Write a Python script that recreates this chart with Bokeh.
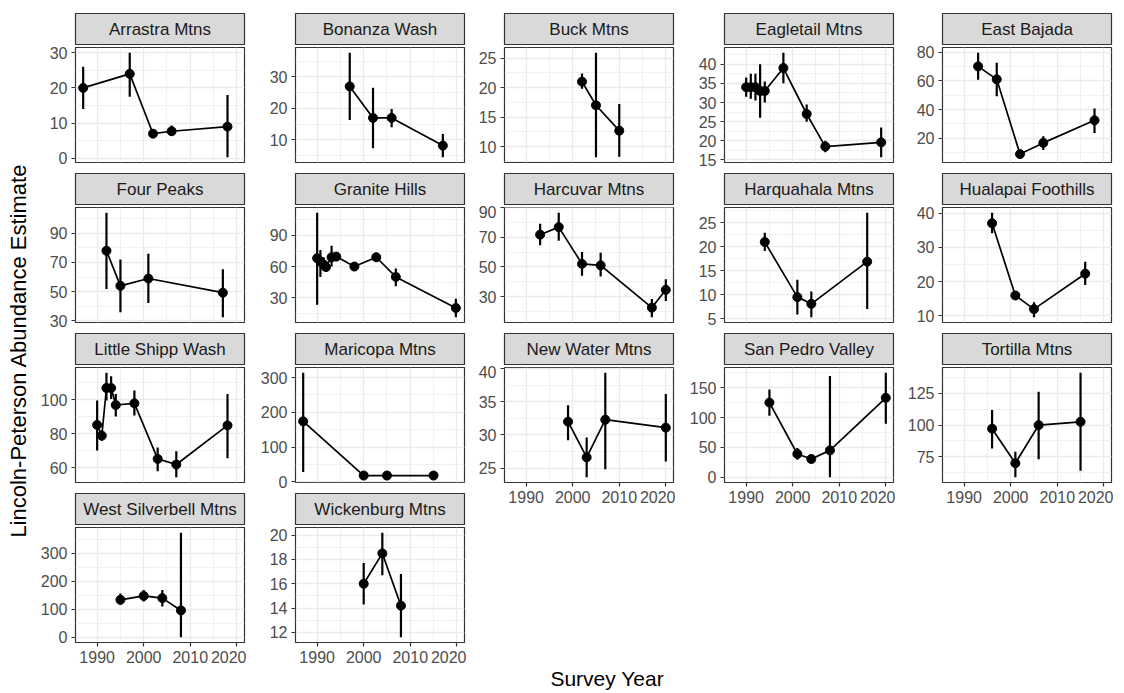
import math
from bokeh.plotting import figure
from bokeh.models import Range1d, FixedTicker, Label, Spacer
from bokeh.layouts import row, column
from bokeh.embed import file_html
from bokeh.resources import INLINE

FONT = "Liberation Sans"

# ---------------- data ----------------
site_names = ["Arrastra Mtns", "Bonanza Wash", "Buck Mtns", "Eagletail Mtns", "East Bajada",
              "Four Peaks", "Granite Hills", "Harcuvar Mtns", "Harquahala Mtns", "Hualapai Foothills",
              "Little Shipp Wash", "Maricopa Mtns", "New Water Mtns", "San Pedro Valley", "Tortilla Mtns",
              "West Silverbell Mtns", "Wickenburg Mtns"]

arrastra_year = [1987, 1997, 2002, 2006, 2018]
arrastra_est = [20, 24, 7, 7.7, 9]
arrastra_lo = [14, 17.5, 6, 6.5, 0.3]
arrastra_hi = [26, 30, 8, 9.3, 18]
arrastra_ticks = [0, 10, 20, 30]

bonanza_year = [1997, 2002, 2006, 2017]
bonanza_est = [27, 17, 17, 8.2]
bonanza_lo = [16.3, 7.4, 14, 4.5]
bonanza_hi = [37.7, 26.6, 19.8, 11.9]
bonanza_ticks = [10, 20, 30]

buck_year = [2002, 2005, 2010]
buck_est = [21, 17, 12.7]
buck_lo = [19.8, 8.2, 8.3]
buck_hi = [22.4, 25.9, 17.2]
buck_ticks = [10, 15, 20, 25]

eagletail_year = [1990, 1991, 1992, 1993, 1994, 1998, 2003, 2007, 2019]
eagletail_est = [34, 34, 34, 33, 33, 39, 27, 18.5, 19.6]
eagletail_lo = [31.5, 31, 30.5, 26, 30, 35, 25, 17, 15.7]
eagletail_hi = [36.5, 37.5, 37.5, 40, 35.5, 43, 29.5, 20, 23.5]
eagletail_ticks = [15, 20, 25, 30, 35, 40]

eastbajada_year = [1993, 1997, 2002, 2007, 2018]
eastbajada_est = [70, 61, 9, 16.8, 32.5]
eastbajada_lo = [60.7, 49.3, 6.8, 11.8, 23.6]
eastbajada_hi = [79.5, 72.5, 10.7, 21.4, 40.7]
eastbajada_ticks = [20, 40, 60, 80]

fourpeaks_year = [1992, 1995, 2001, 2017]
fourpeaks_est = [78, 54, 59, 49.3]
fourpeaks_lo = [51.8, 36, 42.3, 32.5]
fourpeaks_hi = [104, 72, 76, 65.3]
fourpeaks_ticks = [30, 50, 70, 90]

granite_year = [1990.0, 1990.7, 1991.4, 1991.9, 1993.1, 1994.1, 1998.0, 2002.7, 2006.9, 2019.8]
granite_est = [68, 65, 62, 59.5, 69, 69.6, 60, 69, 50, 20]
granite_lo = [23, 50, 56, 56, 60, 66, 58, 65, 41, 11]
granite_hi = [112, 76, 69, 63, 80, 73, 62, 73, 58, 29]
granite_ticks = [30, 60, 90]

harcuvar_year = [1993, 1997, 2002, 2006, 2017, 2020]
harcuvar_est = [71.7, 76.8, 52, 51, 22.5, 34.5]
harcuvar_lo = [64.6, 67.6, 44, 43.5, 16, 27]
harcuvar_hi = [79, 86.5, 60, 59.5, 28.3, 41.7]
harcuvar_ticks = [30, 50, 70, 90]

harquahala_year = [1994, 2001, 2004, 2016]
harquahala_est = [21, 9.5, 8.1, 16.9]
harquahala_lo = [19.1, 5.9, 5.3, 7.0]
harquahala_hi = [22.9, 13.1, 10.7, 27.1]
harquahala_ticks = [5, 10, 15, 20, 25]

hualapai_year = [1996, 2001, 2005, 2016]
hualapai_est = [37.1, 15.9, 11.9, 22.3]
hualapai_lo = [34.2, 15.2, 9.5, 19.0]
hualapai_hi = [40.2, 16.7, 13.9, 25.8]
hualapai_ticks = [10, 20, 30, 40]

littleshipp_year = [1990, 1991, 1992, 1993, 1994, 1998, 2003, 2007, 2018]
littleshipp_est = [85.3, 79, 107, 107, 97, 98, 65.3, 62, 85]
littleshipp_lo = [70.2, 76, 99.6, 100.6, 90.2, 90.8, 58, 54.5, 65.7]
littleshipp_hi = [99.6, 82, 116, 114, 103.5, 105.5, 72, 69.8, 103.5]
littleshipp_ticks = [60, 80, 100]

maricopa_year = [1987, 2000, 2005, 2015]
maricopa_est = [174, 18, 18, 18]
maricopa_lo = [28, 13, 13, 13]
maricopa_hi = [314, 22, 22, 22]
maricopa_ticks = [0, 100, 200, 300]

newwater_year = [1999, 2003, 2007, 2020]
newwater_est = [32, 26.6, 32.3, 31.1]
newwater_lo = [29.2, 23.6, 24.8, 26]
newwater_hi = [34.5, 29.6, 39.4, 36.2]
newwater_ticks = [25, 30, 35, 40]

sanpedro_year = [1995, 2001, 2004, 2008, 2020]
sanpedro_est = [125, 39, 30.6, 45, 133]
sanpedro_lo = [102.8, 29.4, 26.7, 0, 89.4]
sanpedro_hi = [147, 49, 35, 169.4, 175]
sanpedro_ticks = [0, 50, 100, 150]

tortilla_year = [1996, 2001, 2006, 2015]
tortilla_est = [97.2, 70, 100, 102.6]
tortilla_lo = [81.5, 58.9, 73.2, 64]
tortilla_hi = [112, 79.1, 126.3, 141.3]
tortilla_ticks = [75, 100, 125]

silverbell_year = [1995, 2000, 2004, 2008]
silverbell_est = [134, 148, 140, 96]
silverbell_lo = [116, 128, 110, 0]
silverbell_hi = [157, 169, 169, 374]
silverbell_ticks = [0, 100, 200, 300]

wickenburg_year = [2000, 2004, 2008]
wickenburg_est = [16, 18.5, 14.2]
wickenburg_lo = [14.3, 16.7, 11.6]
wickenburg_hi = [17.7, 20.2, 16.8]
wickenburg_ticks = [12, 14, 16, 18, 20]

x_ticks = [1990, 2000, 2010, 2020]
x_minor = [1985, 1995, 2005, 2015]
x_title = "Survey Year"
y_title = "Lincoln-Peterson Abundance Estimate"

series = [
    (arrastra_year, arrastra_est, arrastra_lo, arrastra_hi, arrastra_ticks),
    (bonanza_year, bonanza_est, bonanza_lo, bonanza_hi, bonanza_ticks),
    (buck_year, buck_est, buck_lo, buck_hi, buck_ticks),
    (eagletail_year, eagletail_est, eagletail_lo, eagletail_hi, eagletail_ticks),
    (eastbajada_year, eastbajada_est, eastbajada_lo, eastbajada_hi, eastbajada_ticks),
    (fourpeaks_year, fourpeaks_est, fourpeaks_lo, fourpeaks_hi, fourpeaks_ticks),
    (granite_year, granite_est, granite_lo, granite_hi, granite_ticks),
    (harcuvar_year, harcuvar_est, harcuvar_lo, harcuvar_hi, harcuvar_ticks),
    (harquahala_year, harquahala_est, harquahala_lo, harquahala_hi, harquahala_ticks),
    (hualapai_year, hualapai_est, hualapai_lo, hualapai_hi, hualapai_ticks),
    (littleshipp_year, littleshipp_est, littleshipp_lo, littleshipp_hi, littleshipp_ticks),
    (maricopa_year, maricopa_est, maricopa_lo, maricopa_hi, maricopa_ticks),
    (newwater_year, newwater_est, newwater_lo, newwater_hi, newwater_ticks),
    (sanpedro_year, sanpedro_est, sanpedro_lo, sanpedro_hi, sanpedro_ticks),
    (tortilla_year, tortilla_est, tortilla_lo, tortilla_hi, tortilla_ticks),
    (silverbell_year, silverbell_est, silverbell_lo, silverbell_hi, silverbell_ticks),
    (wickenburg_year, wickenburg_est, wickenburg_lo, wickenburg_hi, wickenburg_ticks),
]

# ---------------- layout constants ----------------
NCOL = 5
ML = [42, 49, 38, 49, 47]   # left border per column (room for y tick labels)
FW = 169                    # frame width
MR = 2
STRIP_H = 33
PTOP = 2
FRAME_H = 115
GAP = 10
AXIS_H = 30
TOP_PAD = 12
TOTAL_H = 690
YT_W = 33
TICK_FS = "16px"

all_years = [y for s in series for y in s[0]]
xmin, xmax = min(all_years), max(all_years)
xpad = 0.05 * (xmax - xmin)
X0, X1 = xmin - xpad, xmax + xpad

BORDER = "#333333"
GRID = "#EBEBEB"


def make_strip(name, ml):
    s = figure(width=ml + FW + MR, height=STRIP_H, x_range=Range1d(0, 1), y_range=Range1d(0, 1),
               x_axis_type=None, y_axis_type=None, toolbar_location=None, output_backend="svg",
               min_border_left=ml, min_border_right=MR, min_border_top=1, min_border_bottom=0,
               background_fill_color="#D9D9D9", border_fill_color="white",
               outline_line_color=BORDER, outline_line_width=1.2)
    s.add_layout(Label(x=0.5, y=0.5, text=name, text_align="center", text_baseline="middle",
                       text_font=FONT, text_font_size="17px", text_color="#1A1A1A"))
    return s


def make_panel(data, ml, bottom):
    yr, est, lo, hi, yt = data
    lmin, hmax = min(lo), max(hi)
    r = hmax - lmin
    bb = AXIS_H if bottom else GAP
    p = figure(width=ml + FW + MR, height=PTOP + FRAME_H + bb,
               x_range=Range1d(X0, X1), y_range=Range1d(lmin - 0.05 * r, hmax + 0.05 * r),
               toolbar_location=None, output_backend="svg",
               min_border_left=ml, min_border_right=MR, min_border_top=PTOP, min_border_bottom=bb,
               background_fill_color="white", border_fill_color="white",
               outline_line_color=BORDER, outline_line_width=1.2)
    step = yt[1] - yt[0]
    p.yaxis.ticker = FixedTicker(ticks=yt, minor_ticks=[t - step / 2 for t in yt] + [yt[-1] + step / 2])
    p.xaxis.ticker = FixedTicker(ticks=x_ticks, minor_ticks=x_minor)
    for ax in p.axis:
        ax.axis_line_color = None
        ax.major_tick_line_color = BORDER
        ax.major_tick_line_width = 1.2
        ax.major_tick_out = 4
        ax.major_tick_in = 0
        ax.minor_tick_line_color = None
        ax.major_label_text_font = FONT
        ax.major_label_text_font_size = TICK_FS
        ax.major_label_text_color = "#4D4D4D"
        ax.major_label_standoff = 4
    p.xaxis.visible = bottom
    for g in p.grid:
        g.grid_line_color = GRID
        g.grid_line_width = 1.3
        g.minor_grid_line_color = GRID
        g.minor_grid_line_width = 0.7
    p.segment(x0=yr, y0=lo, x1=yr, y1=hi, line_color="black", line_width=2.2)
    p.line(yr, est, line_color="black", line_width=1.7)
    p.scatter(yr, est, size=9, fill_color="black", line_color="black")
    return p


# ---------------- build columns ----------------
nrows = math.ceil(len(series) / NCOL)
cols = []
for c in range(NCOL):
    idx = [r * NCOL + c for r in range(nrows) if r * NCOL + c < len(series)]
    cw = ML[c] + FW + MR
    kids = [Spacer(width=cw, height=TOP_PAD)]
    for k, i in enumerate(idx):
        kids.append(make_strip(site_names[i], ML[c]))
        kids.append(make_panel(series[i], ML[c], bottom=(k == len(idx) - 1)))
    cols.append(kids)

# x-axis title placed in the empty area under the middle column
cell_left = [YT_W]
for c in range(NCOL - 1):
    cell_left.append(cell_left[-1] + ML[c] + FW + MR)
panel_center = ((cell_left[0] + ML[0]) + (cell_left[-1] + ML[-1] + FW)) / 2.0
c3 = 2
n3 = len([r for r in range(nrows) if r * NCOL + c3 < len(series)])
used = TOP_PAD + (n3 - 1) * (STRIP_H + PTOP + FRAME_H + GAP) + STRIP_H + PTOP + FRAME_H + AXIS_H
filler_h = TOTAL_H - used
cw3 = ML[c3] + FW + MR
filler = figure(width=cw3, height=filler_h, x_range=Range1d(0, cw3), y_range=Range1d(0, filler_h),
                x_axis_type=None, y_axis_type=None, toolbar_location=None, output_backend="svg",
                min_border=0, outline_line_color=None, background_fill_color="white",
                border_fill_color="white")
filler.add_layout(Label(x=panel_center - cell_left[c3], y=12, text=x_title, text_align="center",
                        text_baseline="middle", text_font=FONT, text_font_size="21px",
                        text_color="black"))
cols[c3].append(filler)

# y-axis title
ytf = figure(width=YT_W, height=TOTAL_H, x_range=Range1d(0, YT_W), y_range=Range1d(0, TOTAL_H),
             x_axis_type=None, y_axis_type=None, toolbar_location=None, output_backend="svg",
             min_border=0, outline_line_color=None, background_fill_color="white",
             border_fill_color="white")
ytf.add_layout(Label(x=18, y=TOTAL_H - 350, text=y_title, angle=math.pi / 2, text_align="center",
                     text_baseline="middle", text_font=FONT, text_font_size="22px",
                     text_color="black"))

layout = row([ytf] + [column(k) for k in cols])

with open("out.html", "w") as f:
    f.write(file_html(layout, INLINE))
